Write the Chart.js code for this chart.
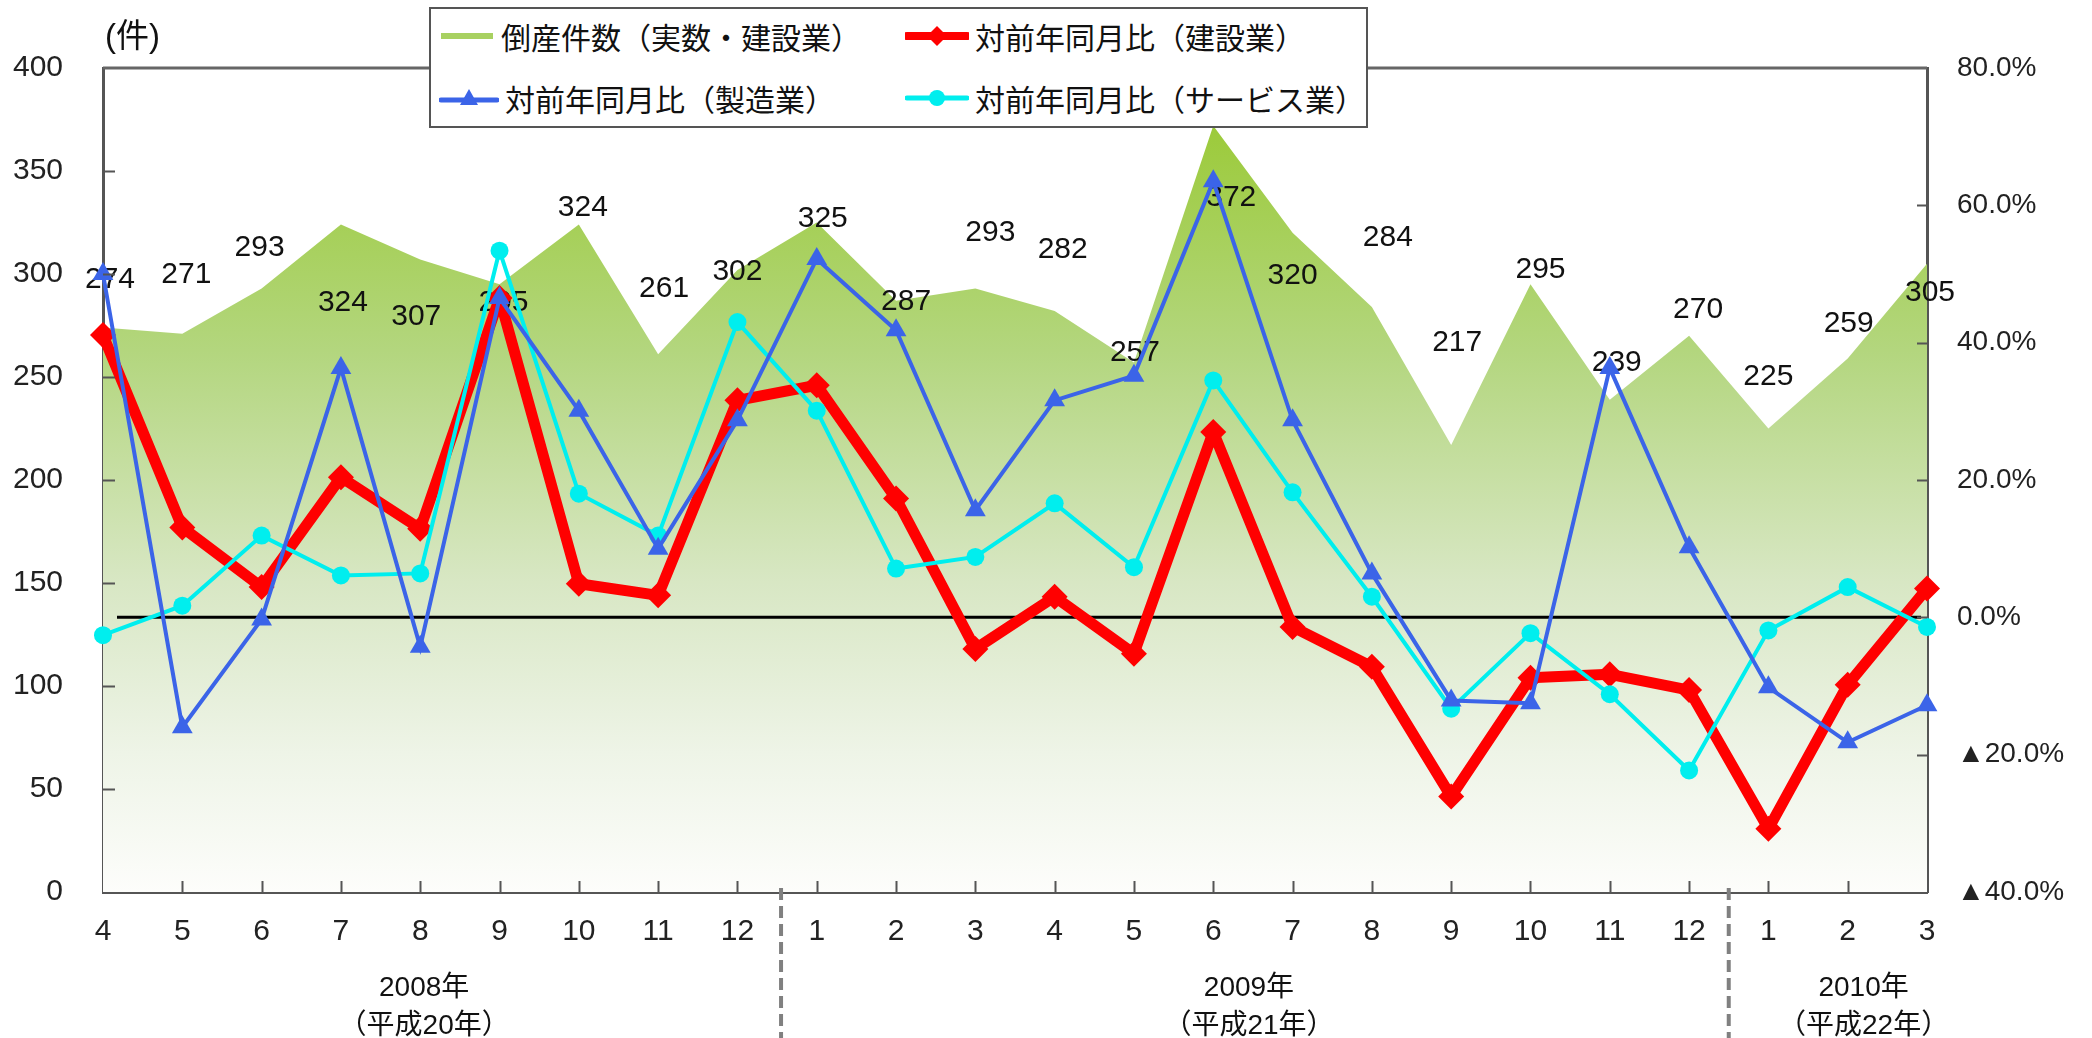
<!DOCTYPE html>
<html>
<head>
<meta charset="utf-8">
<script src="https://cdn.jsdelivr.net/npm/chart.js@4/dist/chart.umd.min.js"></script>
<style>
  html, body { margin: 0; padding: 0; background: #fff; }
  #wrap { position: relative; width: 2092px; height: 1038px; }
  #legend {
    position: absolute; left: 429px; top: 7px; width: 939px; height: 121px;
    box-sizing: border-box; border: 2px solid #555; background: #fff;
    font-family: 'Noto Sans CJK JP', sans-serif; font-size: 30px; color: #111;
  }
  .item { position: absolute; height: 40px; display: flex; align-items: center; white-space: nowrap; }
  .item svg { margin-right: 6px; }
</style>
</head>
<body>
<div id="wrap">
  <canvas id="c"></canvas>
  <div id="legend"></div>
</div>
<script>
// ---- data ----
const months = ['4','5','6','7','8','9','10','11','12','1','2','3','4','5','6','7','8','9','10','11','12','1','2','3'];
const bankruptcies = [274,271,293,324,307,295,324,261,302,325,287,293,282,257,372,320,284,217,295,239,270,225,259,305];
const constructionYoY = [41.1,13.1,4.4,20.4,12.9,46.5,4.9,3.2,31.6,33.8,17.3,-4.6,3.0,-5.3,27.0,-1.4,-7.2,-26.1,-8.8,-8.3,-10.6,-30.8,-9.8,4.2];
const manufacturingYoY = [50.0,-16.0,-0.3,36.3,-4.3,46.5,30.1,10.0,28.7,52.2,41.8,15.6,31.6,35.2,63.5,28.7,6.4,-12.1,-12.5,36.3,10.2,-10.2,-18.2,-12.8];
const serviceYoY = [-2.6,1.7,11.9,6.1,6.4,53.4,18.0,11.9,43.0,30.1,7.1,8.8,16.6,7.3,34.5,18.2,3.0,-13.3,-2.3,-11.2,-22.3,-1.9,4.4,-1.4];
const seriesNames = ['倒産件数（実数・建設業）','対前年同月比（建設業）','対前年同月比（製造業）','対前年同月比（サービス業）'];
const yearLabels = [['2008年','（平成20年）'],['2009年','（平成21年）'],['2010年','（平成22年）']];
const unitLabel = '(件)';

// ---- presentation ----
const yearLabelPos = [4.05, 14.45, 22.2];      // category-index positions of year captions
const yearSeparators = [8.55, 20.5];           // category-index positions of dashed dividers
const areaLabelOffsets = [[7,-48],[4,-59],[-2,-41],[2,78],[-4,57],[4,18],[4,-17],[6,-66],[0,2],[6,-4],[10,1],[15,-56],[8,-61],[1,-10],[18,72],[0,43],[16,-69],[6,-102],[10,-15],[7,-37],[9,-26],[0,-52],[1,-35],[3,29]];
const NUM_FONT = "'Liberation Sans', Arial, 'Noto Sans CJK JP', sans-serif";
const JP_FONT = "'Liberation Sans', 'Noto Sans CJK JP', sans-serif";
const RED = '#ff0000', BLUE = '#3b64e8', CYAN = '#00eeee';

Chart.defaults.font.family = NUM_FONT;

const decor = {
  id: 'decor',
  afterDatasetDraw(chart, args) {
    if (args.index !== 0) return;
    const c = chart.ctx, x = chart.scales.x, y = chart.scales.y, y1 = chart.scales.y1, a = chart.chartArea;
    c.save();
    const z = y1.getPixelForValue(0);
    c.strokeStyle = '#000'; c.lineWidth = 3;
    c.beginPath(); c.moveTo(a.left + 14, z); c.lineTo(a.right - 6, z); c.stroke();
    c.fillStyle = '#111';
    c.font = '30px ' + NUM_FONT;
    c.textAlign = 'center'; c.textBaseline = 'middle';
    bankruptcies.forEach((v, i) => {
      const px = x.getPixelForValue(i) + areaLabelOffsets[i][0];
      const py = y.getPixelForValue(v) + areaLabelOffsets[i][1];
      c.fillText(String(v), px, py);
    });
    c.restore();
  },
  afterDraw(chart) {
    const c = chart.ctx, x = chart.scales.x, y = chart.scales.y, y1 = chart.scales.y1, a = chart.chartArea;
    c.save();
    c.strokeStyle = '#666'; c.lineWidth = 3;
    c.beginPath(); c.moveTo(a.left, a.top); c.lineTo(a.right, a.top); c.stroke();
    c.strokeStyle = '#555'; c.lineWidth = 2;
    c.beginPath();
    for (let v = 50; v < 400; v += 50) { const p = Math.round(y.getPixelForValue(v)) + 0.5; c.moveTo(a.left, p); c.lineTo(a.left + 12, p); }
    for (let v = -20; v < 80; v += 20) { const p = Math.round(y1.getPixelForValue(v)) + 0.5; c.moveTo(a.right - 10, p); c.lineTo(a.right, p); }
    for (let i = 1; i < months.length - 1; i++) { const p = Math.round(x.getPixelForValue(i)) + 0.5; c.moveTo(p, a.bottom - 11); c.lineTo(p, a.bottom); }
    c.stroke();
    c.strokeStyle = '#808080'; c.lineWidth = 4; c.setLineDash([12, 6]);
    yearSeparators.forEach(s => {
      const p = x.getPixelForValue(s);
      c.beginPath(); c.moveTo(p, a.bottom - 4); c.lineTo(p, chart.height); c.stroke();
    });
    c.setLineDash([]);
    c.fillStyle = '#111'; c.textAlign = 'center'; c.textBaseline = 'middle';
    c.font = '28px ' + JP_FONT;
    yearLabels.forEach((l, i) => {
      const p = x.getPixelForValue(yearLabelPos[i]);
      c.fillText(l[0], p, a.bottom + 96);
      c.fillText(l[1], p, a.bottom + 134);
    });
    c.textAlign = 'left'; c.font = '33px ' + JP_FONT;
    c.fillText(unitLabel, a.left + 2, a.top - 30);
    c.restore();
  }
};

const ctx = document.getElementById('c');
new Chart(ctx, {
  data: {
    labels: months,
    datasets: [
      {
        type: 'line', label: seriesNames[0], data: bankruptcies, yAxisID: 'y', order: 3,
        fill: 'origin', borderWidth: 0, pointRadius: 0, tension: 0,
        backgroundColor: (cx) => {
          const ch = cx.chart;
          if (!ch.chartArea) return '#b0d478';
          const t = ch.scales.y.getPixelForValue(375), b = ch.scales.y.getPixelForValue(0);
          const g = ch.ctx.createLinearGradient(0, t, 0, b);
          g.addColorStop(0, '#9bca38');
          g.addColorStop(0.3, '#b3d67e');
          g.addColorStop(0.6, '#d8e7c4');
          g.addColorStop(0.82, '#eef4e7');
          g.addColorStop(1, '#fdfdfb');
          return g;
        }
      },
      {
        type: 'line', label: seriesNames[1], data: constructionYoY, yAxisID: 'y1', order: 2,
        borderColor: RED, backgroundColor: RED, borderWidth: 11, borderJoinStyle: 'round',
        pointStyle: 'rectRot', pointRadius: 13, pointBorderWidth: 0, tension: 0, clip: false
      },
      {
        type: 'line', label: seriesNames[3], data: serviceYoY, yAxisID: 'y1', order: 1,
        borderColor: CYAN, backgroundColor: CYAN, borderWidth: 4,
        pointStyle: 'circle', pointRadius: 9, pointBorderWidth: 0, tension: 0, clip: false
      },
      {
        type: 'line', label: seriesNames[2], data: manufacturingYoY, yAxisID: 'y1', order: 0,
        borderColor: BLUE, backgroundColor: BLUE, borderWidth: 4,
        pointStyle: 'triangle', pointRadius: 12, pointBorderWidth: 0, tension: 0, clip: false
      }
    ]
  },
  options: {
    responsive: true, maintainAspectRatio: false, animation: false,
    layout: { padding: { top: 68, left: 0, right: 0, bottom: 0 } },
    plugins: { legend: { display: false }, tooltip: { enabled: false } },
    scales: {
      x: {
        type: 'category', offset: false,
        grid: { display: false, drawTicks: false },
        border: { display: true, color: '#555', width: 3 },
        ticks: { color: '#222', font: { size: 30 }, padding: 22, maxRotation: 0, autoSkip: false },
        afterFit: s => { s.height = 146; }
      },
      y: {
        position: 'left', min: 0, max: 400,
        grid: { display: false, drawTicks: false },
        border: { display: true, color: '#555', width: 3 },
        ticks: { stepSize: 50, color: '#222', font: { size: 30 }, padding: 40 },
        afterFit: s => { s.width = 103; }
      },
      y1: {
        position: 'right', min: -40, max: 80,
        grid: { display: false, drawTicks: false },
        border: { display: true, color: '#555', width: 3 },
        ticks: {
          stepSize: 20, color: '#222', font: { size: 28 }, padding: 30,
          callback: v => (v < 0 ? '▲' + Math.abs(v).toFixed(1) : v.toFixed(1)) + '%'
        },
        afterFit: s => { s.width = 165; }
      }
    }
  },
  plugins: [decor]
});

// ---- HTML legend ----
const legend = document.getElementById('legend');
const samples = [
  '<svg width="56" height="20"><rect x="2" y="7" width="52" height="6" fill="#a8d161"/></svg>',
  '<svg width="64" height="26"><line x1="2" y1="13" x2="62" y2="13" stroke="' + RED + '" stroke-width="8" stroke-linecap="round"/><polygon points="32,3 42,13 32,23 22,13" fill="' + RED + '"/></svg>',
  '<svg width="60" height="26"><line x1="2" y1="15" x2="58" y2="15" stroke="' + BLUE + '" stroke-width="5" stroke-linecap="round"/><polygon points="30,4 39,20 21,20" fill="' + BLUE + '"/></svg>',
  '<svg width="64" height="26"><line x1="2" y1="13" x2="62" y2="13" stroke="' + CYAN + '" stroke-width="5" stroke-linecap="round"/><circle cx="32" cy="13" r="8" fill="' + CYAN + '"/></svg>'
];
const pos = [[8, 7], [474, 7], [8, 69], [474, 69]];
[0, 1, 2, 3].forEach((k, i) => {
  const d = document.createElement('div');
  d.className = 'item';
  d.style.left = pos[i][0] + 'px';
  d.style.top = pos[i][1] + 'px';
  d.innerHTML = samples[k] + '<span>' + seriesNames[k] + '</span>';
  legend.appendChild(d);
});
</script>
</body>
</html>
